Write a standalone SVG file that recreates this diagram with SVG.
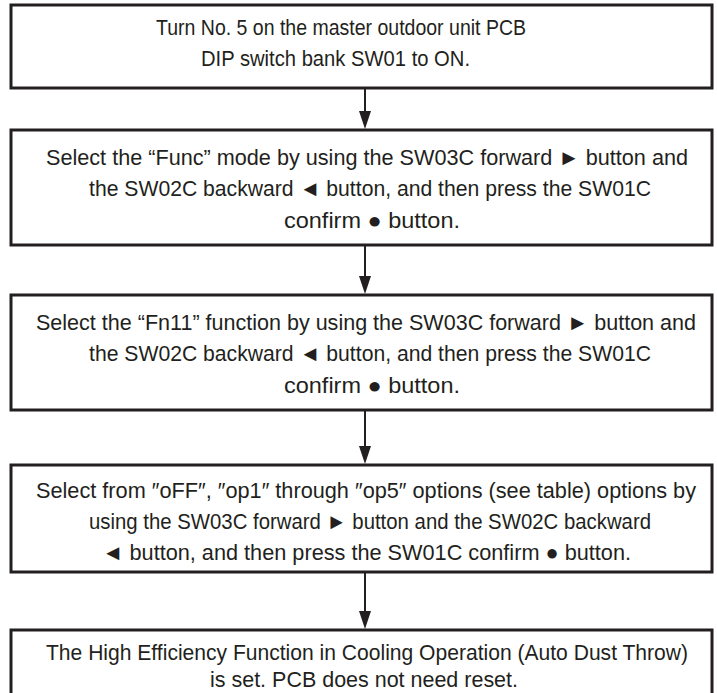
<svg xmlns="http://www.w3.org/2000/svg" width="717" height="693" viewBox="0 0 717 693">
<defs>
<style>
.box{fill:#fff;stroke:#231f20;stroke-width:3}
.t{font-family:"Liberation Sans Narrow","Liberation Sans",Arial,sans-serif;font-size:22px;fill:#231f20}
.c{stroke:#231f20;stroke-width:2;fill:none}
.h{fill:#231f20}
</style>
</defs>
<rect width="717" height="693" fill="#fff"/>
<g id="n1">
<rect class="box" x="11" y="5" width="701" height="83"/>
<text class="t" x="156" y="35" textLength="370" lengthAdjust="spacingAndGlyphs">Turn No. 5 on the master outdoor unit PCB</text>
<text class="t" x="201" y="66" textLength="269" lengthAdjust="spacingAndGlyphs">DIP switch bank SW01 to ON.</text>
</g>
<g id="n2">
<rect class="box" x="11" y="130" width="701" height="115"/>
<text class="t" x="46" y="165" textLength="642" lengthAdjust="spacingAndGlyphs">Select the “Func” mode by using the SW03C forward ► button and</text>
<text class="t" x="89" y="196" textLength="562" lengthAdjust="spacingAndGlyphs">the SW02C backward ◄ button, and then press the SW01C</text>
<text class="t" x="284" y="228" textLength="176" lengthAdjust="spacingAndGlyphs">confirm ● button.</text>
</g>
<g id="n3">
<rect class="box" x="11" y="295" width="701" height="115"/>
<text class="t" x="36" y="330" textLength="660" lengthAdjust="spacingAndGlyphs">Select the “Fn11” function by using the SW03C forward ► button and</text>
<text class="t" x="89" y="361" textLength="562" lengthAdjust="spacingAndGlyphs">the SW02C backward ◄ button, and then press the SW01C</text>
<text class="t" x="284" y="393" textLength="176" lengthAdjust="spacingAndGlyphs">confirm ● button.</text>
</g>
<g id="n4">
<rect class="box" x="11" y="465" width="701" height="107"/>
<text class="t" x="36" y="498" textLength="660" lengthAdjust="spacingAndGlyphs">Select from ″oFF″, ″op1″ through ″op5″ options (see table) options by</text>
<text class="t" x="89" y="529" textLength="562" lengthAdjust="spacingAndGlyphs">using the SW03C forward ► button and the SW02C backward</text>
<text class="t" x="102" y="560" textLength="529" lengthAdjust="spacingAndGlyphs">◄ button, and then press the SW01C confirm ● button.</text>
</g>
<g id="n5">
<rect class="box" x="11" y="630" width="701" height="80"/>
<text class="t" x="46" y="660" textLength="642" lengthAdjust="spacingAndGlyphs">The High Efficiency Function in Cooling Operation (Auto Dust Throw)</text>
<text class="t" x="210" y="687" textLength="308" lengthAdjust="spacingAndGlyphs">is set. PCB does not need reset.</text>
</g>
<g id="connectors">
<line class="c" x1="365" y1="88" x2="365" y2="112"/>
<polygon class="h" points="359,111 371,111 365,129"/>
<line class="c" x1="365" y1="245" x2="365" y2="277"/>
<polygon class="h" points="359,276 371,276 365,294"/>
<line class="c" x1="365" y1="410" x2="365" y2="447"/>
<polygon class="h" points="359,446 371,446 365,464"/>
<line class="c" x1="365" y1="572" x2="365" y2="612"/>
<polygon class="h" points="359,611 371,611 365,629"/>
</g>
</svg>
